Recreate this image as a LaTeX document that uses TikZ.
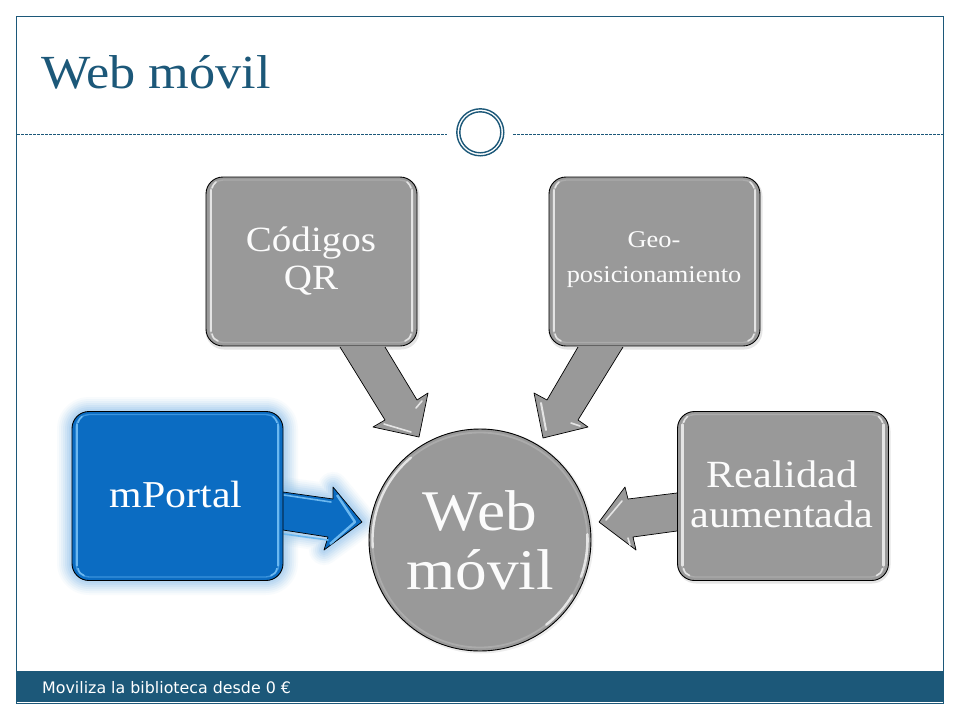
\documentclass[tikz,border=0pt]{standalone}
\usepackage{fontspec}
\setmainfont[FakeStretch=1.1]{Liberation Serif}
\newfontfamily\footfont{DejaVu Sans}
\usetikzlibrary{shadows,fadings}
\definecolor{navy}{HTML}{1C5879}
\definecolor{gfill}{HTML}{999999}
\definecolor{gedge}{HTML}{E4E4E4}
\definecolor{grim}{HTML}{ABABAB}
\definecolor{bfill}{HTML}{0B6CC2}
\definecolor{bedge}{HTML}{6CB8F0}
\definecolor{brim}{HTML}{3A93DD}
\definecolor{glowc}{HTML}{8FC1EA}
\tikzset{
 x=1pt,y=-1pt,
 boxshape/.style={rectangle,rounded corners=17pt,draw=black,line width=0.9pt,minimum width=211pt,minimum height=169pt,inner sep=0pt},
 graybox/.style={boxshape,fill=gfill},
 bluebox/.style={boxshape,fill=bfill},
 lbl/.style={text=white,align=center,inner sep=0pt},
 graytxt/.style={lbl,text=white!96!gfill},
 nodept/.style={inner sep=0pt,minimum size=0pt},
 arrowbody/.style={draw=black,line width=0.7pt,line join=round},
 rule/.style={navy,dash pattern=on 3pt off 1pt,line width=0.7pt},
 shine/.style={line width=1.6pt,line cap=round}
}
% x1,y1,x2,y2,bright colour,rim colour
\newcommand{\glossbox}[6]{%
 \draw[#6,line width=1.4pt,rounded corners=13pt] (#1+4,#2+3) rectangle (#3-4,#4-3.5);
 \draw[#5,line width=2.2pt,line cap=round] (#1+5,#2+13) -- (#1+5,#4-15);
 \draw[#5,line width=2.2pt,line cap=round] (#3-5,#2+13) -- (#3-5,#4-15);
 \draw[#5,line width=1.6pt,line cap=round] (#1+6,#4-12) .. controls (#1+7,#4-8) and (#1+9,#4-6) .. (#1+12,#4-5);
 \draw[#5,line width=1.6pt,line cap=round] (#3-6,#4-12) .. controls (#3-7,#4-8) and (#3-9,#4-6) .. (#3-12,#4-5);
 \draw[#5,line width=1.6pt,line cap=round] (#1+6,#2+11) .. controls (#1+7,#2+8) and (#1+8,#2+7) .. (#1+10,#2+5);
 \draw[#5,line width=1.6pt,line cap=round] (#3-6,#2+11) .. controls (#3-7,#2+8) and (#3-8,#2+7) .. (#3-10,#2+5);
}
\begin{document}
\begin{tikzpicture}
\useasboundingbox (0,0) rectangle (960,720);
\fill[white] (0,0) rectangle (960,720);
% frame
\draw[navy,line width=0.9pt] (16.5,16.5) rectangle (943.5,703.5);
\node[nodept,anchor=base west,text=navy,font=\fontsize{47.5}{50}\selectfont] (title) at (41,88) {Web móvil};
% rule and ring
\coordinate (ruleL) at (17,134);
\coordinate (ruleM1) at (447,134);
\coordinate (ruleM2) at (513,134);
\coordinate (ruleR) at (943,134);
\draw[rule] (ruleL) -- (ruleM1);
\draw[rule] (ruleM2) -- (ruleR);
\node[circle,draw=navy,line width=1.4pt,fill=white,minimum size=47pt,inner sep=0pt] (ring) at (480.3,132.3) {};
\node[circle,draw=navy,line width=1.4pt,minimum size=41pt,inner sep=0pt] (ringin) at (480.3,132.3) {};
% footer
\fill[navy] (17,671) rectangle (943,702);
\node[nodept,anchor=base west,text=white,font=\footfont\fontsize{15.85}{16}\selectfont] (foot) at (42,693.5) {Moviliza la biblioteca desde 0 €};
% glow
\coordinate (a4a) at (283,492); \coordinate (a4b) at (333,499);\coordinate (a4c) at (333,487);
\coordinate (a4t) at (362,522); \coordinate (a4d) at (324,550);\coordinate (a4e) at (328,537);\coordinate (a4f) at (283,530);
\foreach \w/\o in {30/0.06,26/0.08,22/0.10,18/0.12,14/0.15,10/0.18,6/0.2}{
 \draw[glowc,opacity=\o,line width=\w pt,rounded corners=17pt,line join=round] (72,412) rectangle (283,580);
 \draw[glowc,opacity=\o,line width=\w pt,line join=round] (a4a) -- (a4b) -- (a4c) -- (a4t) -- (a4d) -- (a4e) -- (a4f);
}
% soft shadows under the grey boxes
\foreach \ya/\yb/\xa/\xb in {177/346/206/417,177/346/549/760,412/580/678/888}{
 \draw[black,opacity=0.10,line width=3pt,rounded corners=17pt] (\xa+1,\ya+2) rectangle (\xb+1,\yb+2);
}
% arrows
\coordinate (a1a) at (340,347); \coordinate (a1b) at (385,420);\coordinate (a1c) at (373,427);
\coordinate (a1t) at (419,437); \coordinate (a1d) at (428,393);\coordinate (a1e) at (417,400);\coordinate (a1f) at (385,347);
\draw[fill=gfill,arrowbody] (a1a) -- (a1b) -- (a1c) -- (a1t) -- (a1d) -- (a1e) -- (a1f);
\draw[gedge,shine] (384,424) -- (411,432);
\draw[gedge,shine] (416,408) -- (422,401);
\coordinate (a2a) at (578,347); \coordinate (a2b) at (547,400);\coordinate (a2c) at (534,393);
\coordinate (a2t) at (543,438); \coordinate (a2d) at (588,427);\coordinate (a2e) at (578,420);\coordinate (a2f) at (623,347);
\draw[fill=gfill,arrowbody] (a2a) -- (a2b) -- (a2c) -- (a2t) -- (a2d) -- (a2e) -- (a2f);
\draw[gedge,line width=2pt,line cap=round] (541,403) -- (546,430);
\draw[gedge,shine] (571,423) -- (580,426);
\coordinate (a3a) at (677,493); \coordinate (a3b) at (628,499);\coordinate (a3c) at (625,487);
\coordinate (a3t) at (599,522); \coordinate (a3d) at (636,550);\coordinate (a3e) at (633,537);\coordinate (a3f) at (677,531);
\draw[fill=gfill,arrowbody] (a3a) -- (a3b) -- (a3c) -- (a3t) -- (a3d) -- (a3e) -- (a3f);
\draw[gedge,shine] (606,520) -- (622,501);
\draw[gedge,shine] (628,538) -- (630,545);
\draw[fill=bfill,arrowbody] (a4a) -- (a4b) -- (a4c) -- (a4t) -- (a4d) -- (a4e) -- (a4f);
\draw[bedge,shine] (284,495) -- (331,502);
\draw[bedge,shine] (284,534) -- (328,540);
\draw[bedge,line width=2.4pt,line join=round] (337,495) -- (355,522) -- (330,544);
% big circle
\draw[black,opacity=0.07,line width=3pt] (481,541) circle[radius=111pt];
\node[circle,fill=gfill,draw=black,line width=0.9pt,minimum size=222pt,inner sep=0pt] (hub) at (480,540) {};
\draw[grim,line width=1.8pt] (hub.center) circle[radius=107.5pt];
\draw[gedge,line width=2.6pt,line cap=round] (hub.center) ++(3:107.5pt) arc[start angle=3,end angle=-20,radius=107.5pt];
\draw[gedge,line width=2.4pt,line cap=round] (hub.center) ++(-31:107.5pt) arc[start angle=-31,end angle=-52,radius=107.5pt];
\draw[gedge,line width=2.4pt,line cap=round] (hub.center) ++(130:107.5pt) arc[start angle=130,end angle=184,radius=107.5pt];
\node[graytxt,font=\fontsize{57.5}{59}\selectfont] (hubt) at (480,540) {Web\\móvil};
% boxes
\node[graybox] (qrbox) at (311.5,261.5) {};
\glossbox{206}{177}{417}{346}{gedge}{grim}
\node[graytxt,font=\fontsize{35.5}{38}\selectfont] (qr) at (311,261) {Códigos\\QR};
\node[graybox] (geobox) at (654.5,261.5) {};
\glossbox{549}{177}{760}{346}{gedge}{grim}
\node[graytxt,font=\fontsize{24}{35}\selectfont] (geo) at (654,260) {Geo-\\posicionamiento};
\node[graybox] (rabox) at (783,496) {};
\glossbox{677.5}{411.5}{888.5}{580.5}{gedge}{grim}
\node[graytxt,font=\fontsize{38.5}{40}\selectfont] (ra) at (782,494) {Realidad\\aumentada};
\node[bluebox] (mpbox) at (177.5,496) {};
\glossbox{72}{411.5}{283}{580.5}{bedge}{brim}
\node[lbl,font=\fontsize{38}{40}\selectfont] (mp) at (176,494) {mPortal};
\end{tikzpicture}
\end{document}
